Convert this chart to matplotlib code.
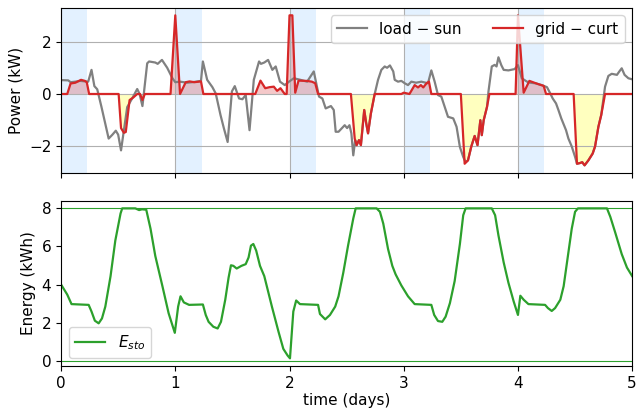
import numpy as np
import matplotlib
matplotlib.use("Agg")
import matplotlib.pyplot as plt

# --- datos (tiempo en horas) ---
grey_h = [0, 1.5, 2, 3, 4, 5.7, 6.4, 7.0, 7.6, 8.5, 10.0, 10.8, 11.5, 12.0, 12.6, 13.2, 13.9,
          15.0, 16.0, 16.5, 17.1, 18.1, 18.5, 19.8, 20.3, 21.2, 22.3, 23.4, 24.0, 25.0, 26.5,
          28.0, 29.4, 29.8, 30.7, 31.8, 32.5, 33.5, 34.2, 35.0, 35.9, 36.5, 37.4, 38.1, 38.8,
          39.6, 40.5, 41.6, 42.0, 42.7, 43.5, 44.4, 45.1, 46.0, 47.0, 47.9, 48.9, 50.3, 51.7,
          53.1, 54.2, 54.9, 55.6, 56.7, 57.3, 57.7, 58.3, 59.6, 60.1, 60.6, 61.0, 61.4, 61.8,
          62.1, 62.6, 63.0, 63.7, 64.1, 64.5, 65.1, 65.9, 66.6, 67.3, 68.0, 68.5, 69.1, 69.8,
          70.1, 70.8, 71.5, 72.2, 72.9, 73.6, 74.6, 75.7, 77.1, 77.8, 78.5, 79.2, 79.9, 80.6,
          81.3, 82.4, 83.1, 83.8, 84.5, 85.0, 85.5, 86.2, 86.9, 87.5, 88.1, 88.4, 88.8, 89.5,
          89.8, 90.5, 91.1, 91.5, 91.9, 92.5, 93.0, 94.0, 95.3, 96.0, 96.8, 97.9, 98.6, 99.6,
          101.0, 102.1, 102.8, 103.3, 104.0, 104.5, 105.1, 105.8, 106.1, 106.6, 107.3, 108.0,
          108.4, 109.1, 109.5, 110.0, 110.8, 111.7, 112.2, 112.9, 113.5, 114.3, 115.0, 115.7,
          116.8, 117.3, 117.8, 118.4, 119.2, 120.0]
load_sun = [0.53, 0.52, 0.45, 0.47, 0.5, 0.47, 0.92, 0.3, 0.18, -0.5, -1.7, -1.55, -1.4, -1.55,
            -2.15, -1.4, -0.5, -0.15, 0.19, 0.0, -0.46, 1.17, 1.24, 1.2, 1.15, 1.3, 1.0, 0.6,
            0.45, 0.47, 0.43, 0.46, 0.5, 1.24, 0.54, 0.26, 0.02, -0.8, -1.3, -1.83, 0.1, 0.3,
            -0.17, -0.2, -0.04, -1.38, 0.54, 1.24, 1.15, 1.2, 1.3, 0.92, 1.05, 0.47, 0.34, 0.47,
            0.6, 0.54, 0.47, 0.86, -0.1, -0.17, -0.55, -0.46, -0.61, -1.44, -1.44, -1.19, -1.3,
            -1.19, -1.5, -2.34, -1.76, -1.95, -1.76, -1.95, -0.61, -1.1, -1.5, -0.74, 0.0, 0.54,
            0.92, 1.05, 1.0, 1.09, 0.86, 0.54, 0.47, 0.5, 0.41, 0.34, 0.47, 0.43, 0.47, 0.41,
            0.9, 0.47, -0.04, -0.1, -0.49, -0.87, -0.93, -1.25, -2.02, -2.4, -2.6, -2.53, -2.0,
            -1.6, -1.95, -1.0, -1.57, -1.0, -0.49, 0.09, 1.05, 1.11, 1.05, 1.4, 1.1, 0.92, 0.9,
            0.95, 1.1, 0.6, 0.47, 0.43, 0.41, 0.34, 0.26, 0.02, -0.17, -0.36, -0.61, -0.93,
            -1.25, -1.38, -1.7, -2.0, -2.4, -2.66, -2.63, -2.6, -2.72, -2.53, -2.27, -2.0, -1.25,
            -0.8, 0.28, 0.69, 0.77, 0.73, 0.86, 0.98, 0.73, 0.6, 0.56]

red_h = [0, 1.3, 2.0, 3.0, 4.2, 5.0, 5.4, 5.9, 12.1, 12.6, 13.2, 13.6, 14.4, 15.2, 16.0, 16.6,
         17.1, 17.6, 23.0, 24.0, 25.0, 26.2, 27.0, 28.0, 29.4, 29.9, 40.8, 41.9, 42.9, 43.8,
         44.7, 45.4, 46.1, 47.0, 47.4, 48.0, 48.6, 49.2, 49.9, 51.6, 52.7, 53.4, 54.0, 60.9,
         61.7, 62.1, 62.6, 63.0, 63.7, 64.1, 64.5, 65.1, 65.9, 71.5, 72.0, 73.2, 74.3, 75.0,
         75.6, 76.1, 76.8, 77.3, 77.8, 84.0, 84.8, 85.5, 86.2, 86.9, 87.5, 88.1, 88.4, 88.8,
         89.5, 90.0, 95.5, 96.0, 97.2, 98.4, 99.6, 100.7, 101.4, 101.9, 107.7, 108.4, 109.1,
         109.5, 110.0, 110.8, 111.7, 112.2, 112.9, 113.5, 114.3, 120.0]
grid_curt = [0, 0, 0.4, 0.43, 0.54, 0.5, 0.45, 0, 0, -1.3, -1.48, -1.45, -0.23, -0.13, 0, 0,
             -0.23, 0, 0, 3.0, 0, 0.45, 0.48, 0.45, 0.48, 0, 0, 0.51, 0.22, 0.26, 0.28, 0.12,
             0.22, 0.0, 0.0, 3.0, 3.0, 0.05, 0.51, 0.5, 0.47, 0.41, 0, 0, -1.7, -1.95, -1.76,
             -1.95, -0.61, -1.1, -1.5, -0.74, 0, 0, 0.05, 0, 0.34, 0.25, 0.34, 0.25, 0.41, 0.47,
             0, 0, -2.66, -2.53, -2.0, -1.6, -1.95, -1.0, -1.57, -1.0, -0.49, 0, 0, 3.0, 0.05,
             0.5, 0.42, 0.35, 0.31, 0, 0, -2.66, -2.63, -2.6, -2.72, -2.53, -2.27, -2.0, -1.25,
             -0.8, 0, 0]

sto_h = [0, 1.3, 2.2, 5.8, 6.4, 7.1, 7.9, 8.6, 9.3, 10.4, 11.4, 12.5, 12.85, 15.6, 16.4, 17.0,
         17.9, 18.8, 19.8, 21.3, 22.6, 23.9, 24.6, 25.1, 25.8, 26.9, 29.8, 30.4, 31.0, 32.0,
         32.9, 33.6, 34.5, 35.2, 35.7, 36.2, 36.9, 37.9, 38.8, 39.4, 39.9, 40.4, 41.0, 41.8,
         42.7, 44.3, 45.7, 46.7, 47.6, 48.1, 48.8, 49.4, 50.2, 54.0, 54.4, 55.5, 56.5, 57.6,
         58.3, 59.3, 60.3, 61.4, 61.9, 66.3, 67.0, 67.7, 68.7, 69.6, 70.3, 71.5, 72.9, 74.3,
         77.8, 78.4, 79.2, 80.1, 80.8, 81.7, 82.7, 83.8, 84.5, 85.0, 90.5, 91.2, 91.9, 93.0,
         94.0, 95.1, 96.0, 96.5, 97.2, 98.2, 101.7, 102.3, 103.1, 103.8, 104.9, 105.6, 106.5,
         107.3, 108.0, 108.6, 114.7, 115.4, 116.4, 117.8, 118.9, 120.0]
E_sto = [4.0, 3.47, 2.97, 2.93, 2.58, 2.1, 1.96, 2.22, 2.84, 4.44, 6.31, 7.73, 8.0, 8.0, 7.91,
         7.95, 7.93, 6.93, 5.5, 3.91, 2.49, 1.46, 2.84, 3.38, 3.06, 2.93, 2.95, 2.4, 2.04, 1.78,
         1.69, 2.04, 3.2, 4.36, 5.01, 4.98, 4.84, 4.98, 5.07, 5.42, 6.04, 6.13, 5.78, 4.98,
         4.44, 2.84, 1.51, 0.62, 0.27, 0.12, 2.58, 3.16, 2.97, 2.93, 2.45, 2.17, 2.4, 2.84,
         3.38, 4.62, 6.04, 7.47, 8.0, 8.0, 7.82, 7.2, 5.87, 4.98, 4.53, 3.95, 3.38, 2.97, 2.93,
         2.4, 2.08, 2.04, 2.31, 3.02, 4.18, 6.13, 7.64, 8.0, 8.0, 7.64, 6.58, 5.16, 4.09, 3.11,
         2.4, 3.41, 3.2, 2.97, 2.93, 2.76, 2.61, 2.76, 3.2, 3.91, 5.51, 6.93, 7.82, 8.0, 8.0,
         7.56, 6.76, 5.6, 4.89, 4.44]

E_max = 8.0
dias = [0, 1, 2, 3, 4]
noche = 0.23  # ancho de la franja azul (dias)

t_grey = np.array(grey_h) / 24
t_red = np.array(red_h) / 24
t_sto = np.array(sto_h) / 24
gc = np.array(grid_curt)

plt.rcParams['font.size'] = 11

fig, (ax1, ax2) = plt.subplots(2, 1, figsize=(6.36, 4.12), dpi=100, sharex=True)
fig.subplots_adjust(left=0.096, right=0.994, top=0.981, bottom=0.112, hspace=0.17)

# Grafico 1: potencias
for d in dias:
    ax1.axvspan(d, d + noche, color='dodgerblue', alpha=0.12, lw=0)
ax1.plot(t_grey, load_sun, color='grey', lw=1.6, label='load − sun')
ax1.plot(t_red, gc, color='tab:red', lw=1.6, label='grid − curt')
ax1.fill_between(t_red, gc, 0, where=gc > 0, interpolate=True, color='tab:red', alpha=0.25, lw=0)
ax1.fill_between(t_red, gc, 0, where=gc < 0, interpolate=True, color='yellow', alpha=0.25, lw=0)
ax1.grid(True)
ax1.set_yticks([-2, 0, 2])
ax1.set_ylabel('Power (kW)')
ax1.legend(loc='upper right', ncol=2)

# Grafico 2: energia almacenada
ax2.plot(t_sto, E_sto, color='tab:green', lw=1.6, label='$E_{sto}$')
ax2.axhline(0, color='tab:green', lw=0.8)
ax2.axhline(E_max, color='tab:green', lw=0.8)
ax2.set_yticks([0, 2, 4, 6, 8])
ax2.set_ylabel('Energy (kWh)')
ax2.set_xlabel('time (days)', labelpad=2)
ax2.legend(loc='lower left')
ax2.set_xlim(0, 5)

plt.savefig('out.png')
